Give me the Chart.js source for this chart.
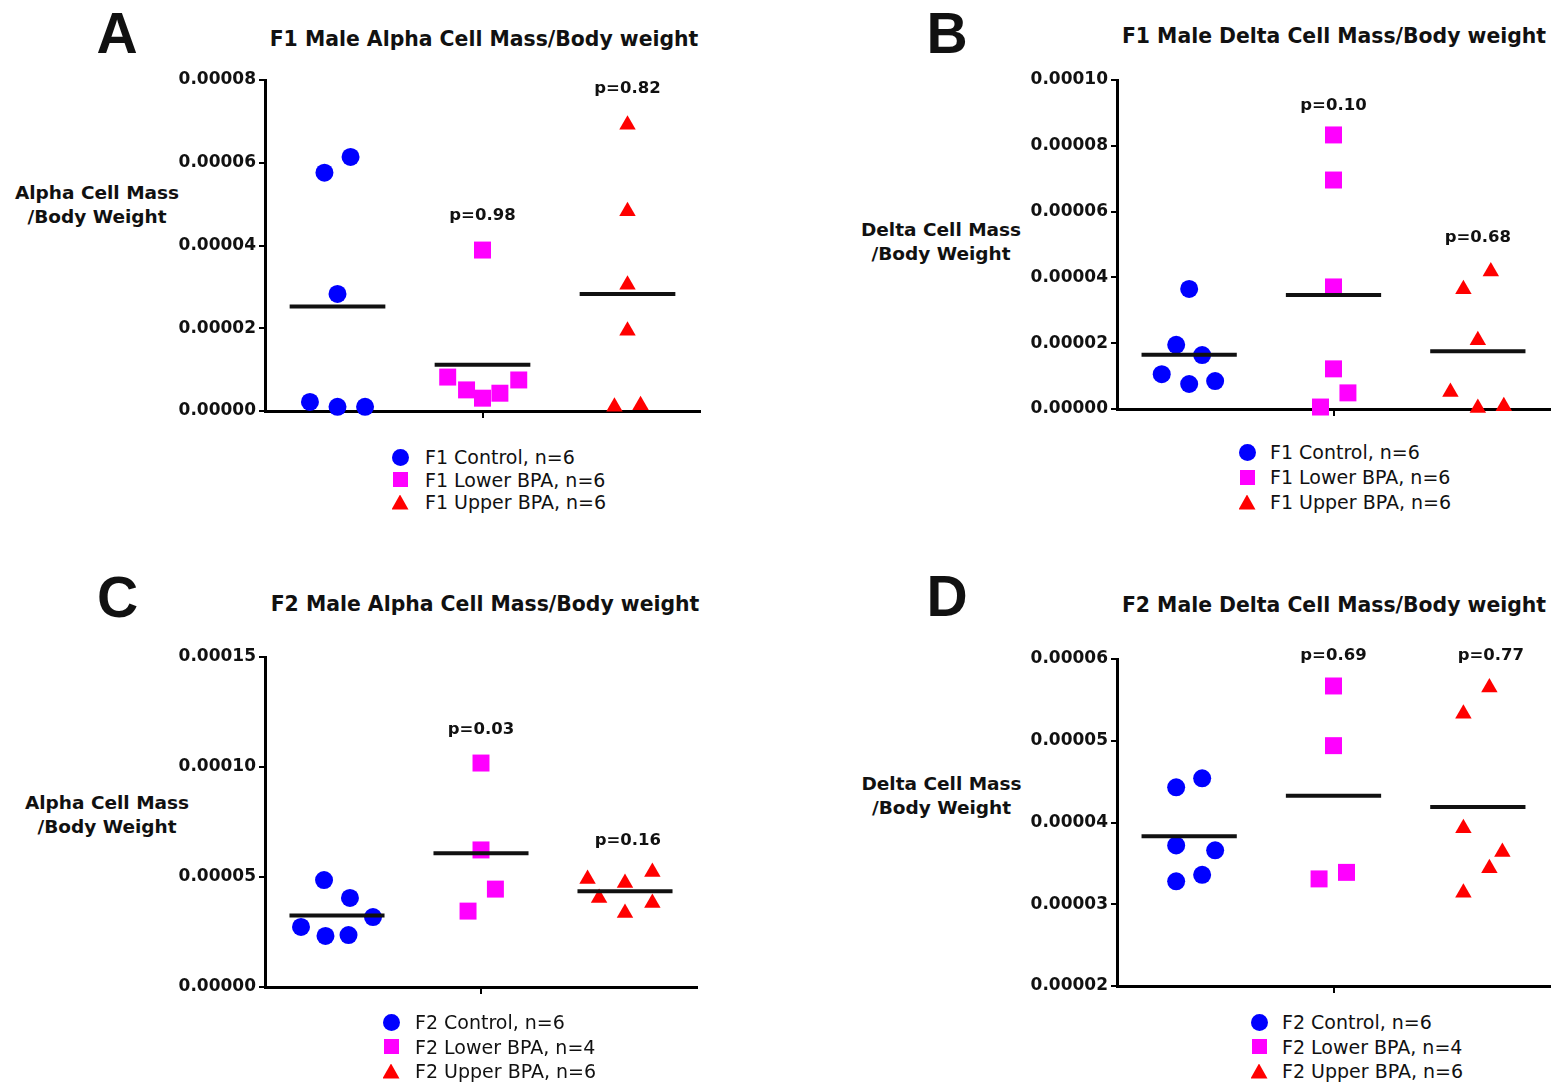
<!DOCTYPE html>
<html>
<head>
<meta charset="utf-8">
<script src="https://cdn.jsdelivr.net/npm/chart.js@4.4.1/dist/chart.umd.min.js"></script>
<style>
  html, body { margin: 0; padding: 0; background: #fff; overflow: hidden; }
  #page { position: relative; width: 1553px; height: 1090px; background: #fff; }
  .abs { position: absolute; white-space: nowrap; color: #111; }
  .letter { font: bold 57px 'Liberation Sans', Arial, sans-serif; line-height: 57px; width: 100px; text-align: center; }
  .title { font: bold 20.4px 'DejaVu Sans', sans-serif; line-height: 24px; width: 600px; text-align: center; }
  .ytitle { font: bold 18.5px 'DejaVu Sans', sans-serif; line-height: 24.5px; width: 240px; text-align: center; }
  .pval { font: bold 16.5px 'DejaVu Sans', sans-serif; line-height: 20px; width: 120px; text-align: center; }
  .legrow { font: 19px 'DejaVu Sans', sans-serif; line-height: 22px; height: 22px; }
  .mk { position: absolute; }
  canvas { position: absolute; }
</style>
</head>
<body>
<div id="page"></div>
<script>
// group labels
const groupsF1 = ['F1 Control, n=6', 'F1 Lower BPA, n=6', 'F1 Upper BPA, n=6'];
const groupsF2 = ['F2 Control, n=6', 'F2 Lower BPA, n=4', 'F2 Upper BPA, n=6'];

// A - F1 alpha cell mass / body weight
const aControl = [5.76e-5, 6.14e-5, 2.83e-5, 2.2e-6, 1.0e-6, 1.0e-6];
const aLower = [3.89e-5, 8.2e-6, 5.1e-6, 3.1e-6, 4.3e-6, 7.5e-6];
const aUpper = [6.92e-5, 4.83e-5, 3.05e-5, 1.94e-5, 1.0e-6, 1.4e-6];
const aControlJit = [-0.09, 0.09, 0, -0.19, 0, 0.19];
const aLowerJit = [0, -0.24, -0.11, 0, 0.12, 0.25];
const aUpperJit = [0, 0, 0, 0, -0.09, 0.09];

// B - F1 delta cell mass / body weight
const bControl = [3.65e-5, 1.95e-5, 1.64e-5, 1.06e-5, 7.6e-6, 8.5e-6];
const bLower = [8.33e-5, 6.96e-5, 3.71e-5, 1.22e-5, 4.9e-6, 6.0e-7];
const bUpper = [4.18e-5, 3.64e-5, 2.09e-5, 5.2e-6, 3.0e-7, 8.0e-7];
const bControlJit = [0, -0.09, 0.09, -0.19, 0, 0.18];
const bLowerJit = [0, 0, 0, 0, 0.1, -0.09];
const bUpperJit = [0.09, -0.1, 0, -0.19, 0, 0.18];

// C - F2 alpha cell mass / body weight
const cControl = [4.86e-5, 4.05e-5, 3.18e-5, 2.73e-5, 2.32e-5, 2.36e-5];
const cLower = [1.018e-4, 6.23e-5, 4.45e-5, 3.45e-5];
const cUpper = [4.91e-5, 4.73e-5, 5.23e-5, 4.05e-5, 3.36e-5, 3.82e-5];
const cControlJit = [-0.09, 0.09, 0.25, -0.25, -0.08, 0.08];
const cLowerJit = [0, 0, 0.1, -0.09];
const cUpperJit = [-0.26, 0, 0.19, -0.18, 0, 0.19];

// D - F2 delta cell mass / body weight
const dControl = [4.43e-5, 4.54e-5, 3.72e-5, 3.66e-5, 3.28e-5, 3.36e-5];
const dLower = [5.67e-5, 4.94e-5, 3.31e-5, 3.39e-5];
const dUpper = [5.65e-5, 5.33e-5, 3.93e-5, 3.64e-5, 3.44e-5, 3.14e-5];
const dControlJit = [-0.09, 0.09, -0.09, 0.18, -0.09, 0.09];
const dLowerJit = [0, 0, -0.1, 0.09];
const dUpperJit = [0.08, -0.1, -0.1, 0.17, 0.08, -0.1];

const groupColors = ['#0000ff', '#ff00ff', '#ff0000'];
const markerStyles = ['circle', 'rect', 'triangle'];
const markerRadii = [9, 12, 9.5];

Chart.defaults.font.family = "'DejaVu Sans', sans-serif";

const panels = [
  {
    letter: 'A', letterX: 117, letterY: 32.5,
    title: 'F1 Male Alpha Cell Mass/Body weight', titleX: 484, titleY: 39,
    yTitle: ['Alpha Cell Mass', '/Body Weight'], yTitleX: 97, yTitleY: 193,
    box: { left: 150, top: 60, width: 553, height: 376 },
    yMin: 0, yMax: 0.00008, yStep: 0.00002,
    groups: groupsF1, values: [aControl, aLower, aUpper], jitter: [aControlJit, aLowerJit, aUpperJit],
    pvals: [{ x: 2, y: 4.74e-5, text: 'p=0.98' }, { x: 3, y: 7.81e-5, text: 'p=0.82' }],
    legend: { markerX: 400, textX: 425, firstRow: 457, rowGap: 22.5 }
  },
  {
    letter: 'B', letterX: 947, letterY: 32.5,
    title: 'F1 Male Delta Cell Mass/Body weight', titleX: 1334, titleY: 36,
    yTitle: ['Delta Cell Mass', '/Body Weight'], yTitleX: 941, yTitleY: 230,
    box: { left: 1002, top: 60, width: 551, height: 374 },
    yMin: 0, yMax: 0.0001, yStep: 0.00002,
    groups: groupsF1, values: [bControl, bLower, bUpper], jitter: [bControlJit, bLowerJit, bUpperJit],
    pvals: [{ x: 2, y: 9.24e-5, text: 'p=0.10' }, { x: 3, y: 5.23e-5, text: 'p=0.68' }],
    legend: { markerX: 1247, textX: 1270, firstRow: 452, rowGap: 25 }
  },
  {
    letter: 'C', letterX: 117.5, letterY: 597,
    title: 'F2 Male Alpha Cell Mass/Body weight', titleX: 485, titleY: 604,
    yTitle: ['Alpha Cell Mass', '/Body Weight'], yTitleX: 107, yTitleY: 803,
    box: { left: 150, top: 637, width: 550, height: 375 },
    yMin: 0, yMax: 0.00015, yStep: 0.00005,
    groups: groupsF2, values: [cControl, cLower, cUpper], jitter: [cControlJit, cLowerJit, cUpperJit],
    pvals: [{ x: 2, y: 1.173e-4, text: 'p=0.03' }, { x: 3.02, y: 6.68e-5, text: 'p=0.16' }],
    legend: { markerX: 391, textX: 415, firstRow: 1022, rowGap: 24.5 }
  },
  {
    letter: 'D', letterX: 947, letterY: 596,
    title: 'F2 Male Delta Cell Mass/Body weight', titleX: 1334, titleY: 605,
    yTitle: ['Delta Cell Mass', '/Body Weight'], yTitleX: 941.5, yTitleY: 784,
    box: { left: 1002, top: 639, width: 551, height: 372 },
    yMin: 0.00002, yMax: 0.00006, yStep: 0.00001,
    groups: groupsF2, values: [dControl, dLower, dUpper], jitter: [dControlJit, dLowerJit, dUpperJit],
    pvals: [{ x: 2, y: 6.05e-5, text: 'p=0.69' }, { x: 3.09, y: 6.05e-5, text: 'p=0.77' }],
    legend: { markerX: 1259, textX: 1282, firstRow: 1022, rowGap: 24.5 }
  }
];

const page = document.getElementById('page');

function addText(cls, text, left, top) {
  const el = document.createElement('div');
  el.className = 'abs ' + cls;
  el.innerHTML = text;
  el.style.left = left + 'px';
  el.style.top = top + 'px';
  page.appendChild(el);
  return el;
}

function legendMarker(g, cx, cy) {
  const el = document.createElement('div');
  el.className = 'mk';
  el.style.background = groupColors[g];
  let w = 17, h = 17;
  if (markerStyles[g] === 'circle') {
    el.style.borderRadius = '50%';
  } else if (markerStyles[g] === 'rect') {
    w = 15; h = 15;
  } else {
    w = 17; h = 15;
    el.style.clipPath = 'polygon(50% 0, 100% 100%, 0 100%)';
  }
  el.style.width = w + 'px';
  el.style.height = h + 'px';
  el.style.left = (cx - w / 2) + 'px';
  el.style.top = (cy - h / 2) + 'px';
  page.appendChild(el);
}

function buildPanel(p) {
  addText('letter', p.letter, p.letterX - 50, p.letterY - 28);
  addText('title', p.title, p.titleX - 300, p.titleY - 12);
  addText('ytitle', p.yTitle.join('<br>'), p.yTitleX - 120, p.yTitleY - 12.25);

  const canvas = document.createElement('canvas');
  canvas.width = p.box.width;
  canvas.height = p.box.height;
  canvas.style.left = p.box.left + 'px';
  canvas.style.top = p.box.top + 'px';
  page.appendChild(canvas);

  const datasets = [];
  p.values.forEach((vals, g) => {
    const mean = vals.reduce((s, v) => s + v, 0) / vals.length;
    datasets.push({
      type: 'line',
      data: [{ x: g + 1 - 0.33, y: mean }, { x: g + 1 + 0.33, y: mean }],
      borderColor: '#111',
      borderWidth: 4,
      pointRadius: 0,
      borderCapStyle: 'butt',
      order: 0,
      clip: false
    });
  });
  p.values.forEach((vals, g) => {
    datasets.push({
      type: 'scatter',
      label: p.groups[g],
      data: vals.map((v, i) => ({ x: g + 1 + p.jitter[g][i], y: v })),
      pointStyle: markerStyles[g],
      pointRadius: markerRadii[g],
      pointBorderWidth: 0,
      backgroundColor: groupColors[g],
      order: 1,
      clip: false
    });
  });

  const chart = new Chart(canvas, {
    type: 'scatter',
    data: { datasets: datasets },
    options: {
      responsive: false,
      animation: false,
      layout: { autoPadding: false, padding: { top: 20, right: 3, left: 0, bottom: 0 } },
      plugins: { legend: { display: false }, tooltip: { enabled: false } },
      scales: {
        x: {
          type: 'linear',
          min: 0.5,
          max: 3.5,
          afterBuildTicks: s => { s.ticks = [{ value: 2 }]; },
          afterFit: s => { s.height = 25; },
          ticks: { display: false },
          grid: { drawOnChartArea: false, drawTicks: true, tickLength: 7, color: '#000', lineWidth: 2 },
          border: { color: '#000', width: 3 }
        },
        y: {
          min: p.yMin,
          max: p.yMax,
          afterFit: s => { s.width = 115; },
          ticks: {
            stepSize: p.yStep,
            callback: v => v.toFixed(5),
            color: '#111',
            padding: 3,
            font: { size: 17, weight: 'bold' }
          },
          grid: { drawOnChartArea: false, drawTicks: true, tickLength: 6, color: '#000', lineWidth: 2 },
          border: { color: '#000', width: 3 }
        }
      }
    }
  });

  // p-value labels placed through the chart's scales
  p.pvals.forEach(pv => {
    const px = chart.scales.x.getPixelForValue(pv.x);
    const py = chart.scales.y.getPixelForValue(pv.y);
    addText('pval', pv.text, p.box.left + px - 60, p.box.top + py - 10);
  });

  // legend from the point datasets
  chart.data.datasets.filter(d => d.type === 'scatter').forEach((d, g) => {
    const cy = p.legend.firstRow + g * p.legend.rowGap;
    legendMarker(g, p.legend.markerX, cy);
    addText('legrow', d.label, p.legend.textX, cy - 11);
  });
}

panels.forEach(buildPanel);
</script>
</body>
</html>
